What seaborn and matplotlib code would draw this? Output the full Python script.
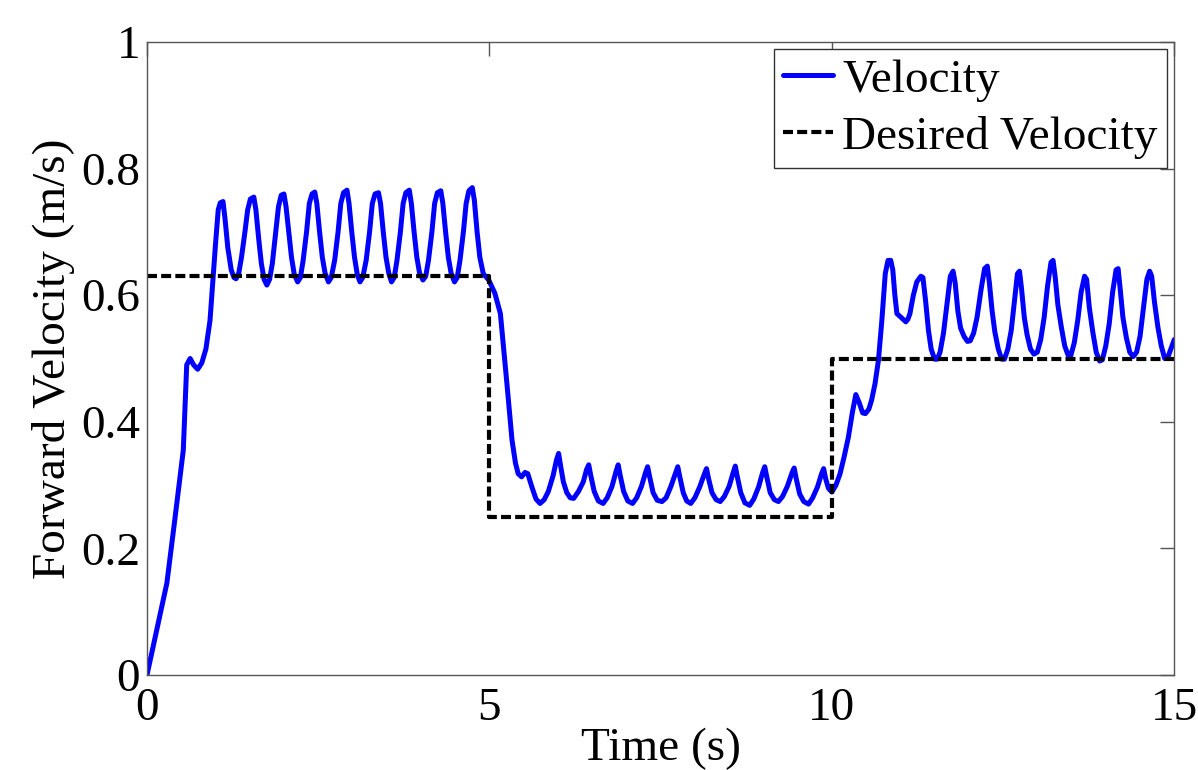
import numpy as np
import pandas as pd
import seaborn as sns
import matplotlib.pyplot as plt

# measured velocity trace (time s, velocity m/s), read off the reference
# phase 1: start-up and the 0.63 m/s set point
phase1 = [(0.00, 0.000), (0.10, 0.050), (0.29, 0.145), (0.40, 0.240), (0.53, 0.355),
          (0.58, 0.490), (0.63, 0.500), (0.68, 0.490), (0.74, 0.483), (0.80, 0.493),
          (0.86, 0.515), (0.92, 0.560), (0.96, 0.620), (1.00, 0.680), (1.04, 0.735),
          (1.07, 0.746), (1.11, 0.748), (1.14, 0.720), (1.18, 0.675), (1.23, 0.640),
          (1.27, 0.628), (1.30, 0.626), (1.34, 0.635), (1.38, 0.660), (1.43, 0.700),
          (1.47, 0.735), (1.51, 0.752), (1.56, 0.755), (1.59, 0.735), (1.63, 0.690),
          (1.67, 0.650), (1.71, 0.625), (1.75, 0.616), (1.79, 0.625), (1.83, 0.650),
          (1.88, 0.700), (1.92, 0.740), (1.96, 0.758), (2.00, 0.760), (2.03, 0.740),
          (2.07, 0.700), (2.11, 0.660), (2.15, 0.633), (2.20, 0.621), (2.24, 0.628),
          (2.28, 0.655), (2.33, 0.700), (2.37, 0.745), (2.41, 0.760), (2.45, 0.763),
          (2.48, 0.745), (2.52, 0.700), (2.56, 0.660), (2.60, 0.635), (2.65, 0.621),
          (2.69, 0.628), (2.74, 0.655), (2.79, 0.700), (2.83, 0.745), (2.87, 0.762),
          (2.92, 0.766), (2.95, 0.745), (2.99, 0.700), (3.03, 0.660), (3.07, 0.633),
          (3.11, 0.621), (3.15, 0.628), (3.20, 0.655), (3.25, 0.700), (3.29, 0.745),
          (3.33, 0.760), (3.38, 0.762), (3.41, 0.745), (3.45, 0.700), (3.49, 0.660),
          (3.53, 0.635), (3.57, 0.621), (3.61, 0.628), (3.65, 0.655), (3.70, 0.700),
          (3.74, 0.745), (3.78, 0.762), (3.83, 0.766), (3.86, 0.745), (3.90, 0.700),
          (3.94, 0.660), (3.98, 0.635), (4.03, 0.624), (4.07, 0.630), (4.11, 0.655),
          (4.16, 0.700), (4.20, 0.745), (4.24, 0.762), (4.29, 0.765), (4.32, 0.745),
          (4.36, 0.700), (4.40, 0.660), (4.44, 0.635), (4.49, 0.621), (4.53, 0.628),
          (4.57, 0.655), (4.62, 0.700), (4.66, 0.745), (4.70, 0.765), (4.75, 0.770),
          (4.78, 0.750), (4.82, 0.700), (4.86, 0.660), (4.91, 0.634), (4.99, 0.624)]

# phase 2: step down to the 0.25 m/s set point
phase2 = [(5.08, 0.603), (5.16, 0.571), (5.26, 0.455), (5.33, 0.371), (5.38, 0.335),
          (5.42, 0.318), (5.47, 0.313), (5.52, 0.320), (5.56, 0.318), (5.62, 0.297),
          (5.68, 0.278), (5.74, 0.271), (5.80, 0.277), (5.86, 0.290), (5.93, 0.315),
          (5.98, 0.340), (6.01, 0.350), (6.04, 0.330), (6.08, 0.305), (6.13, 0.288),
          (6.18, 0.280), (6.23, 0.279), (6.30, 0.290), (6.37, 0.305), (6.42, 0.325),
          (6.45, 0.332), (6.48, 0.315), (6.53, 0.290), (6.59, 0.275), (6.66, 0.271),
          (6.72, 0.280), (6.79, 0.298), (6.85, 0.322), (6.88, 0.332), (6.91, 0.315),
          (6.96, 0.290), (7.02, 0.275), (7.09, 0.271), (7.15, 0.280), (7.22, 0.298),
          (7.28, 0.320), (7.31, 0.329), (7.34, 0.313), (7.39, 0.288), (7.45, 0.276),
          (7.52, 0.274), (7.58, 0.280), (7.65, 0.298), (7.72, 0.320), (7.75, 0.329),
          (7.78, 0.313), (7.83, 0.288), (7.88, 0.275), (7.94, 0.271), (8.00, 0.280),
          (8.07, 0.297), (8.14, 0.318), (8.17, 0.326), (8.20, 0.310), (8.25, 0.288),
          (8.31, 0.277), (8.37, 0.274), (8.43, 0.282), (8.50, 0.298), (8.56, 0.320),
          (8.59, 0.330), (8.62, 0.313), (8.67, 0.288), (8.73, 0.272), (8.80, 0.268),
          (8.86, 0.278), (8.93, 0.297), (8.99, 0.320), (9.02, 0.329), (9.05, 0.313),
          (9.10, 0.288), (9.16, 0.277), (9.22, 0.274), (9.28, 0.282), (9.35, 0.298),
          (9.42, 0.320), (9.45, 0.327), (9.48, 0.310), (9.53, 0.286), (9.59, 0.274),
          (9.66, 0.270), (9.72, 0.280), (9.79, 0.297), (9.85, 0.318), (9.88, 0.326),
          (9.91, 0.310), (9.95, 0.295), (10.00, 0.289)]

# phase 3: step up to the 0.5 m/s set point
phase3 = [(10.06, 0.300), (10.12, 0.318), (10.18, 0.345), (10.24, 0.375), (10.30, 0.415),
          (10.35, 0.443), (10.40, 0.430), (10.45, 0.414), (10.49, 0.413), (10.54, 0.420),
          (10.58, 0.434), (10.63, 0.460), (10.68, 0.497), (10.73, 0.560), (10.78, 0.634),
          (10.82, 0.655), (10.86, 0.655), (10.89, 0.640), (10.92, 0.600), (10.95, 0.571),
          (11.00, 0.566), (11.04, 0.562), (11.08, 0.558), (11.11, 0.562), (11.14, 0.571),
          (11.19, 0.600), (11.24, 0.621), (11.30, 0.630), (11.33, 0.628), (11.37, 0.590),
          (11.41, 0.545), (11.45, 0.515), (11.50, 0.499), (11.54, 0.499), (11.58, 0.510),
          (11.63, 0.540), (11.68, 0.585), (11.73, 0.630), (11.77, 0.638), (11.80, 0.620),
          (11.84, 0.575), (11.88, 0.548), (11.93, 0.535), (11.98, 0.527), (12.02, 0.528),
          (12.07, 0.540), (12.12, 0.565), (12.18, 0.610), (12.23, 0.642), (12.27, 0.646),
          (12.30, 0.620), (12.34, 0.575), (12.38, 0.542), (12.43, 0.515), (12.48, 0.499),
          (12.52, 0.499), (12.57, 0.515), (12.62, 0.545), (12.67, 0.595), (12.71, 0.634),
          (12.74, 0.638), (12.77, 0.610), (12.81, 0.565), (12.85, 0.538), (12.90, 0.515),
          (12.95, 0.507), (13.00, 0.510), (13.05, 0.530), (13.10, 0.565), (13.15, 0.615),
          (13.20, 0.652), (13.23, 0.655), (13.26, 0.630), (13.30, 0.585), (13.35, 0.550),
          (13.40, 0.520), (13.45, 0.505), (13.49, 0.505), (13.54, 0.525), (13.59, 0.560),
          (13.64, 0.605), (13.69, 0.630), (13.72, 0.625), (13.76, 0.580), (13.81, 0.542),
          (13.86, 0.510), (13.91, 0.496), (13.95, 0.498), (14.00, 0.520), (14.05, 0.555),
          (14.10, 0.605), (14.15, 0.640), (14.18, 0.642), (14.21, 0.610), (14.25, 0.565),
          (14.30, 0.533), (14.35, 0.510), (14.40, 0.503), (14.45, 0.510), (14.50, 0.535),
          (14.55, 0.580), (14.60, 0.625), (14.64, 0.638), (14.67, 0.630), (14.71, 0.590),
          (14.76, 0.550), (14.81, 0.520), (14.86, 0.500), (14.90, 0.500), (14.95, 0.515),
          (15.00, 0.530)]

# desired velocity set points
des_t = [0, 5, 5, 10, 10, 15]
des_v = [0.63, 0.63, 0.25, 0.25, 0.50, 0.50]

sns.set_style("white")
plt.rcParams['font.family'] = ['Liberation Serif', 'DejaVu Serif']
plt.rcParams['text.color'] = 'black'
plt.rcParams['xtick.color'] = 'black'
plt.rcParams['ytick.color'] = 'black'
plt.rcParams['axes.labelcolor'] = 'black'

fig = plt.figure(figsize=(11.98, 7.70), dpi=100)
ax = fig.add_axes([0.1227, 0.1234, 0.8575, 0.8220])

vel = pd.DataFrame(phase1 + phase2 + phase3, columns=['t', 'v'])
des = pd.DataFrame({'t': des_t, 'v': des_v})

sns.lineplot(data=vel, x='t', y='v', ax=ax, color='#0000ff', linewidth=3.6,
             estimator=None, sort=False, label='Velocity',
             solid_joinstyle='round', solid_capstyle='round')
sns.lineplot(data=des, x='t', y='v', ax=ax, color='black', linewidth=3.0,
             estimator=None, sort=False, label='Desired Velocity',
             linestyle=(0, (2.4, 1.0)))

ax.set_xlim(0, 15)
ax.set_ylim(0, 1)
ax.set_xticks([0, 5, 10, 15])
ax.set_yticks([0, 0.2, 0.4, 0.6, 0.8, 1])
ax.set_yticklabels(['0', '0.2', '0.4', '0.6', '0.8', '1'])
ax.tick_params(direction='in', length=10, width=1, color='#555555',
               labelsize=34, labelcolor='black', top=True, right=True, pad=5)
ax.tick_params(axis='x', pad=9)
for s in ax.spines.values():
    s.set_color('#555555')
    s.set_linewidth(1)

ax.set_xlabel('Time (s)', fontsize=34, labelpad=-2)
ax.set_ylabel('Forward Velocity (m/s)', fontsize=34, labelpad=4)

leg = ax.legend(loc='upper right', fontsize=34, frameon=True, fancybox=False,
                handlelength=1.05, handletextpad=0.2, borderpad=0.2,
                labelspacing=0.3, borderaxespad=0.15, framealpha=1)
leg.get_frame().set_edgecolor('#333333')
leg.get_frame().set_linewidth(1)
for t in leg.get_texts():
    t.set_color('black')

fig.savefig('out.png', dpi=100)
